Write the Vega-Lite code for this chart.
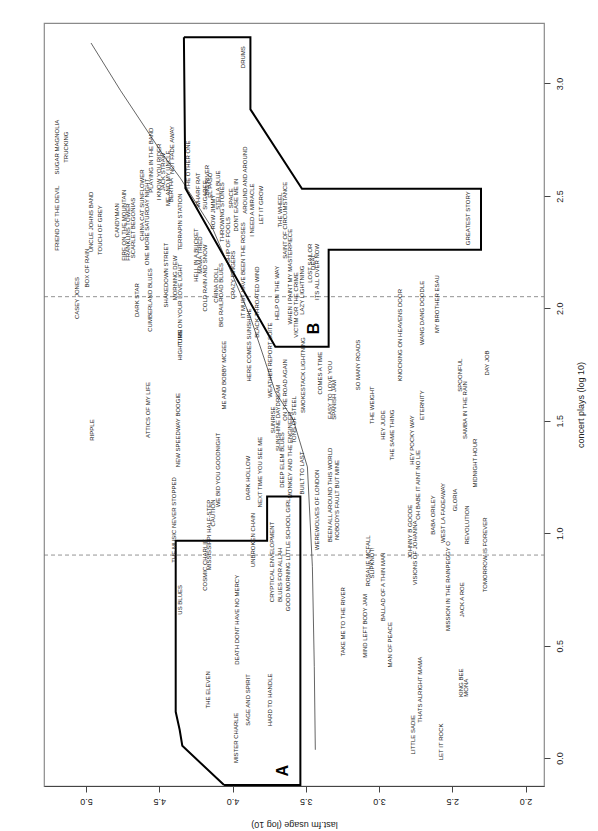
{
"$schema": "https://vega.github.io/schema/vega-lite/v6.json",
"width": 500, "height": 763,
"autosize": "none",
"padding": {"left": 44, "top": 23, "right": 54, "bottom": 45},
"background": "white",
"config": {"view": {"stroke": "#8a8a8a", "strokeWidth": 1.2}, "font": "Liberation Sans"},
"datasets": {
"cuts": [{"plays": 0.903, "lastfm": 5.287, "lastfm_end": 1.874}, {"plays": 2.052, "lastfm": 5.287, "lastfm_end": 1.874}],
"curve": [
{"i":1,"lastfm":4.966,"plays":3.180},{"i":2,"lastfm":4.766,"plays":2.970},{"i":3,"lastfm":4.472,"plays":2.681},{"i":4,"lastfm":4.356,"plays":2.579},{"i":5,"lastfm":4.131,"plays":2.348},{"i":6,"lastfm":3.878,"plays":1.961},{"i":7,"lastfm":3.776,"plays":1.761},{"i":8,"lastfm":3.708,"plays":1.628},{"i":9,"lastfm":3.585,"plays":1.504},{"i":10,"lastfm":3.489,"plays":1.295},{"i":11,"lastfm":3.455,"plays":0.852},{"i":12,"lastfm":3.442,"plays":0.407},{"i":13,"lastfm":3.435,"plays":0.037}
],
"regions": [
{"region":"A","i":1,"lastfm":4.058,"plays":-0.12},{"region":"A","i":2,"lastfm":4.343,"plays":0.055},{"region":"A","i":3,"lastfm":4.361,"plays":0.126},{"region":"A","i":4,"lastfm":4.388,"plays":0.206},{"region":"A","i":5,"lastfm":4.388,"plays":0.967},{"region":"A","i":6,"lastfm":3.764,"plays":0.967},{"region":"A","i":7,"lastfm":3.764,"plays":1.163},{"region":"A","i":8,"lastfm":3.537,"plays":1.163},{"region":"A","i":9,"lastfm":3.537,"plays":-0.12},{"region":"A","i":10,"lastfm":4.058,"plays":-0.12},
{"region":"B","i":1,"lastfm":4.332,"plays":3.206},{"region":"B","i":2,"lastfm":3.878,"plays":3.206},{"region":"B","i":3,"lastfm":3.878,"plays":2.885},{"region":"B","i":4,"lastfm":3.526,"plays":2.532},{"region":"B","i":5,"lastfm":2.304,"plays":2.532},{"region":"B","i":6,"lastfm":2.304,"plays":2.261},{"region":"B","i":7,"lastfm":3.344,"plays":2.261},{"region":"B","i":8,"lastfm":3.344,"plays":1.829},{"region":"B","i":9,"lastfm":3.708,"plays":1.829},{"region":"B","i":10,"lastfm":4.322,"plays":2.534},{"region":"B","i":11,"lastfm":4.332,"plays":3.206}
],
"letters": [{"letter":"A","lastfm":3.653,"plays":-0.056},{"letter":"B","lastfm":3.446,"plays":1.911}],
"songs": [
{"song":"SUGAR MAGNOLIA","lastfm":5.196,"plays":2.717},
{"song":"FRIEND OF THE DEVIL","lastfm":5.196,"plays":2.401},
{"song":"TRUCKING","lastfm":5.134,"plays":2.717},
{"song":"CASEY JONES","lastfm":5.059,"plays":2.046},
{"song":"BOX OF RAIN","lastfm":4.991,"plays":2.179},
{"song":"UNCLE JOHNS BAND","lastfm":4.964,"plays":2.384},
{"song":"RIPPLE","lastfm":4.957,"plays":1.459},
{"song":"TOUCH OF GREY","lastfm":4.902,"plays":2.348},
{"song":"CANDYMAN","lastfm":4.786,"plays":2.392},
{"song":"FIRE ON THE MOUNTAIN","lastfm":4.739,"plays":2.370},
{"song":"FRANKLINS TOWER","lastfm":4.711,"plays":2.339},
{"song":"SCARLET BEGONIAS","lastfm":4.677,"plays":2.357},
{"song":"DARK STAR","lastfm":4.650,"plays":2.037},
{"song":"CHINA CAT SUNFLOWER","lastfm":4.616,"plays":2.459},
{"song":"ONE MORE SATURDAY NIGHT","lastfm":4.582,"plays":2.384},
{"song":"PLAYING IN THE BAND","lastfm":4.554,"plays":2.659},
{"song":"CUMBERLAND BLUES","lastfm":4.561,"plays":2.037},
{"song":"ATTICS OF MY LIFE","lastfm":4.575,"plays":1.548},
{"song":"I KNOW YOU RIDER","lastfm":4.500,"plays":2.606},
{"song":"JACK STRAW","lastfm":4.472,"plays":2.606},
{"song":"SHAKEDOWN STREET","lastfm":4.452,"plays":2.148},
{"song":"ME AND MY UNCLE","lastfm":4.438,"plays":2.579},
{"song":"BERTHA","lastfm":4.418,"plays":2.526},
{"song":"NOT FADE AWAY","lastfm":4.411,"plays":2.704},
{"song":"MORNING DEW","lastfm":4.390,"plays":2.135},
{"song":"TERRAPIN STATION","lastfm":4.356,"plays":2.384},
{"song":"TURN ON YOUR LOVE LIGHT","lastfm":4.356,"plays":2.015},
{"song":"HIGH TIME","lastfm":4.356,"plays":1.837},
{"song":"NEW SPEEDWAY BOOGIE","lastfm":4.370,"plays":1.459},
{"song":"THE MUSIC NEVER STOPPED","lastfm":4.397,"plays":1.059},
{"song":"US BLUES","lastfm":4.356,"plays":0.704},
{"song":"THE OTHER ONE","lastfm":4.302,"plays":2.637},
{"song":"WHARF RAT","lastfm":4.233,"plays":2.526},
{"song":"HELL IN A BUCKET","lastfm":4.247,"plays":2.237},
{"song":"MAMA TRIED","lastfm":4.220,"plays":2.237},
{"song":"SUGAREE","lastfm":4.186,"plays":2.504},
{"song":"BIG RIVER","lastfm":4.172,"plays":2.570},
{"song":"COLD RAIN AND SNOW","lastfm":4.186,"plays":2.135},
{"song":"EL PASO","lastfm":4.152,"plays":2.548},
{"song":"ROW JIMMY","lastfm":4.131,"plays":2.428},
{"song":"STELLA BLUE","lastfm":4.097,"plays":2.526},
{"song":"CHINA DOLL","lastfm":4.111,"plays":2.104},
{"song":"THROWING STONES","lastfm":4.069,"plays":2.428},
{"song":"BIG RAILROAD BLUES","lastfm":4.076,"plays":2.059},
{"song":"SHIP OF FOOLS","lastfm":4.029,"plays":2.304},
{"song":"SPACE","lastfm":4.008,"plays":2.490},
{"song":"CRAZY FINGERS","lastfm":3.995,"plays":2.148},
{"song":"DONT EASE ME IN","lastfm":3.974,"plays":2.459},
{"song":"IT MUST HAVE BEEN THE ROSES","lastfm":3.926,"plays":2.170},
{"song":"AROUND AND AROUND","lastfm":3.913,"plays":2.570},
{"song":"I NEED A MIRACLE","lastfm":3.865,"plays":2.437},
{"song":"LET IT GROW","lastfm":3.803,"plays":2.459},
{"song":"HERE COMES SUNSHINE","lastfm":3.885,"plays":1.837},
{"song":"BLACK THROATED WIND","lastfm":3.831,"plays":2.028},
{"song":"DRUMS","lastfm":3.926,"plays":3.117},
{"song":"ME AND BOBBY MCGEE","lastfm":4.056,"plays":1.703},
{"song":"MISSISSIPPI HALF-STEP","lastfm":4.158,"plays":0.992},
{"song":"CAUTION","lastfm":4.131,"plays":1.090},
{"song":"WE BID YOU GOODNIGHT","lastfm":4.097,"plays":1.281},
{"song":"COSMIC CHARLIE","lastfm":4.186,"plays":0.859},
{"song":"DARK HOLLOW","lastfm":3.892,"plays":1.246},
{"song":"THE ELEVEN","lastfm":4.165,"plays":0.304},
{"song":"DEATH DONT HAVE NO MERCY","lastfm":3.967,"plays":0.615},
{"song":"SAGE AND SPIRIT","lastfm":3.892,"plays":0.259},
{"song":"HARD TO HANDLE","lastfm":3.742,"plays":0.259},
{"song":"MISTER CHARLIE","lastfm":3.974,"plays":0.090},
{"song":"UNBROKEN CHAIN","lastfm":3.858,"plays":0.970},
{"song":"NEXT TIME YOU SEE ME","lastfm":3.810,"plays":1.272},
{"song":"CRYPTICAL ENVELOPMENT","lastfm":3.728,"plays":0.872},
{"song":"BLUES FOR ALLAH","lastfm":3.674,"plays":0.815},
{"song":"GOOD MORNING LITTLE SCHOOL GIRL","lastfm":3.619,"plays":0.904},
{"song":"SUNRISE","lastfm":3.721,"plays":1.504},
{"song":"SUNSHINE DAYDREAM","lastfm":3.687,"plays":1.513},
{"song":"DEEP ELEM BLUES","lastfm":3.660,"plays":1.326},
{"song":"MONKEY AND THE ENGINEER","lastfm":3.605,"plays":1.348},
{"song":"TONS OF STEEL","lastfm":3.578,"plays":1.504},
{"song":"BUILT TO LAST","lastfm":3.523,"plays":1.268},
{"song":"WEATHER REPORT SUITE","lastfm":3.742,"plays":1.770},
{"song":"ON THE ROAD AGAIN","lastfm":3.640,"plays":1.637},
{"song":"HELP ON THE WAY","lastfm":3.694,"plays":2.068},
{"song":"THE WHEEL","lastfm":3.674,"plays":2.437},
{"song":"SAINT OF CIRCUMSTANCE","lastfm":3.640,"plays":2.392},
{"song":"WHEN I PAINT MY MASTERPIECE","lastfm":3.605,"plays":2.141},
{"song":"VICTIM OR THE CRIME","lastfm":3.564,"plays":2.015},
{"song":"LAZY LIGHTNING","lastfm":3.523,"plays":2.081},
{"song":"LOST SAILOR","lastfm":3.469,"plays":2.201},
{"song":"DEAL","lastfm":3.448,"plays":2.206},
{"song":"ITS ALL OVER NOW","lastfm":3.421,"plays":2.162},
{"song":"SMOKESTACK LIGHTNING","lastfm":3.517,"plays":1.703},
{"song":"COMES A TIME","lastfm":3.401,"plays":1.712},
{"song":"EASY TO LOVE YOU","lastfm":3.332,"plays":1.637},
{"song":"SPANISH JAM","lastfm":3.305,"plays":1.593},
{"song":"SO MANY ROADS","lastfm":3.141,"plays":1.748},
{"song":"THE WEIGHT","lastfm":3.046,"plays":1.570},
{"song":"HEY JUDE","lastfm":2.971,"plays":1.481},
{"song":"THE SAME THING","lastfm":2.909,"plays":1.437},
{"song":"KNOCKING ON HEAVENS DOOR","lastfm":2.855,"plays":1.881},
{"song":"WEREWOLVES OF LONDON","lastfm":3.421,"plays":1.104},
{"song":"BEEN ALL AROUND THIS WORLD","lastfm":3.332,"plays":1.170},
{"song":"NOBODYS FAULT BUT MINE","lastfm":3.285,"plays":1.148},
{"song":"TAKE ME TO THE RIVER","lastfm":3.244,"plays":0.606},
{"song":"MIND LEFT BODY JAM","lastfm":3.093,"plays":0.588},
{"song":"ROSALIE MCFALL","lastfm":3.073,"plays":0.877},
{"song":"SLIPKNOT!","lastfm":3.046,"plays":0.868},
{"song":"BALLAD OF A THIN MAN","lastfm":2.971,"plays":0.761},
{"song":"MAN OF PEACE","lastfm":2.923,"plays":0.504},
{"song":"THATS ALRIGHT MAMA","lastfm":2.718,"plays":0.304},
{"song":"LITTLE SADIE","lastfm":2.766,"plays":0.104},
{"song":"LET IT ROCK","lastfm":2.575,"plays":0.072},
{"song":"KING BEE","lastfm":2.438,"plays":0.335},
{"song":"MONA","lastfm":2.404,"plays":0.313},
{"song":"JACK A ROE","lastfm":2.431,"plays":0.704},
{"song":"MISSION IN THE RAIN","lastfm":2.527,"plays":0.704},
{"song":"TOMORROW IS FOREVER","lastfm":2.274,"plays":0.904},
{"song":"REVOLUTION","lastfm":2.397,"plays":1.037},
{"song":"GLORIA","lastfm":2.479,"plays":1.148},
{"song":"PEGGY O","lastfm":2.527,"plays":0.904},
{"song":"WEST LA FADEAWAY","lastfm":2.561,"plays":1.090},
{"song":"BABA ORILEY","lastfm":2.629,"plays":1.081},
{"song":"OH BABE IT AINT NO LIE","lastfm":2.732,"plays":1.215},
{"song":"VISIONS OF JOHANNA","lastfm":2.752,"plays":0.913},
{"song":"JOHNNY B GOODE","lastfm":2.786,"plays":1.006},
{"song":"HEY POCKY WAY","lastfm":2.773,"plays":1.415},
{"song":"ETERNITY","lastfm":2.704,"plays":1.570},
{"song":"MIDNIGHT HOUR","lastfm":2.343,"plays":1.312},
{"song":"SAMBA IN THE RAIN","lastfm":2.411,"plays":1.548},
{"song":"SPOONFUL","lastfm":2.445,"plays":1.703},
{"song":"DAY JOB","lastfm":2.260,"plays":1.757},
{"song":"WANG DANG DOODLE","lastfm":2.704,"plays":1.979},
{"song":"MY BROTHER ESAU","lastfm":2.602,"plays":2.019},
{"song":"GREATEST STORY","lastfm":2.390,"plays":2.401}
]
},
"encoding": {
 "x": {"field": "lastfm", "type": "quantitative", "scale": {"domain": [1.874, 5.287], "reverse": true, "nice": false, "zero": false},
  "axis": {"orient": "bottom", "values": [2, 2.5, 3, 3.5, 4, 4.5, 5], "format": ".1f", "title": "last.fm usage (log 10)", "labelAngle": 180, "labelAlign": "center", "labelBaseline": "middle", "labelPadding": 9, "labelFontSize": 9, "labelColor": "#222222", "labelFlush": false, "labelOverlap": false, "tickSize": 6, "tickColor": "#444444", "domainColor": "#444444", "grid": false, "titleAngle": 180, "titleFontSize": 9, "titleFontWeight": "normal", "titleColor": "#222222", "titleBaseline": "middle", "titleY": 38}},
 "y": {"field": "plays", "type": "quantitative", "scale": {"domain": [-0.124, 3.269], "nice": false, "zero": false},
  "axis": {"orient": "right", "values": [0, 0.5, 1, 1.5, 2, 2.5, 3], "format": ".1f", "title": "concert plays (log 10)", "labelAngle": 270, "labelAlign": "center", "labelBaseline": "middle", "labelPadding": 9.5, "labelFontSize": 9, "labelColor": "#222222", "labelFlush": false, "labelOverlap": false, "tickSize": 6, "tickColor": "#444444", "domain": false, "grid": false, "titleAngle": 270, "titleFontSize": 9, "titleFontWeight": "normal", "titleColor": "#222222", "titleBaseline": "middle", "titleX": 36}}
},
"layer": [
{"data": {"name": "cuts"},
 "mark": {"type": "rule", "strokeDash": [4, 3], "color": "#777777", "strokeWidth": 0.8},
 "encoding": {"x2": {"field": "lastfm_end"}}},
{"data": {"name": "curve"},
 "mark": {"type": "line", "color": "#222222", "strokeWidth": 0.7},
 "encoding": {"order": {"field": "i", "type": "quantitative"}}},
{"data": {"name": "regions"},
 "mark": {"type": "line", "color": "#000000", "strokeWidth": 2, "strokeJoin": "miter"},
 "encoding": {"detail": {"field": "region", "type": "nominal"}, "order": {"field": "i", "type": "quantitative"}}},
{"data": {"name": "songs"},
 "mark": {"type": "text", "angle": 270, "fontSize": 6, "align": "center", "baseline": "middle", "color": "#1a1a1a"},
 "encoding": {"text": {"field": "song", "type": "nominal"}}},
{"data": {"name": "letters"},
 "mark": {"type": "text", "angle": 270, "fontSize": 16, "fontWeight": "bold", "align": "center", "baseline": "middle", "color": "#000000"},
 "encoding": {"text": {"field": "letter", "type": "nominal"}}}
]
}
